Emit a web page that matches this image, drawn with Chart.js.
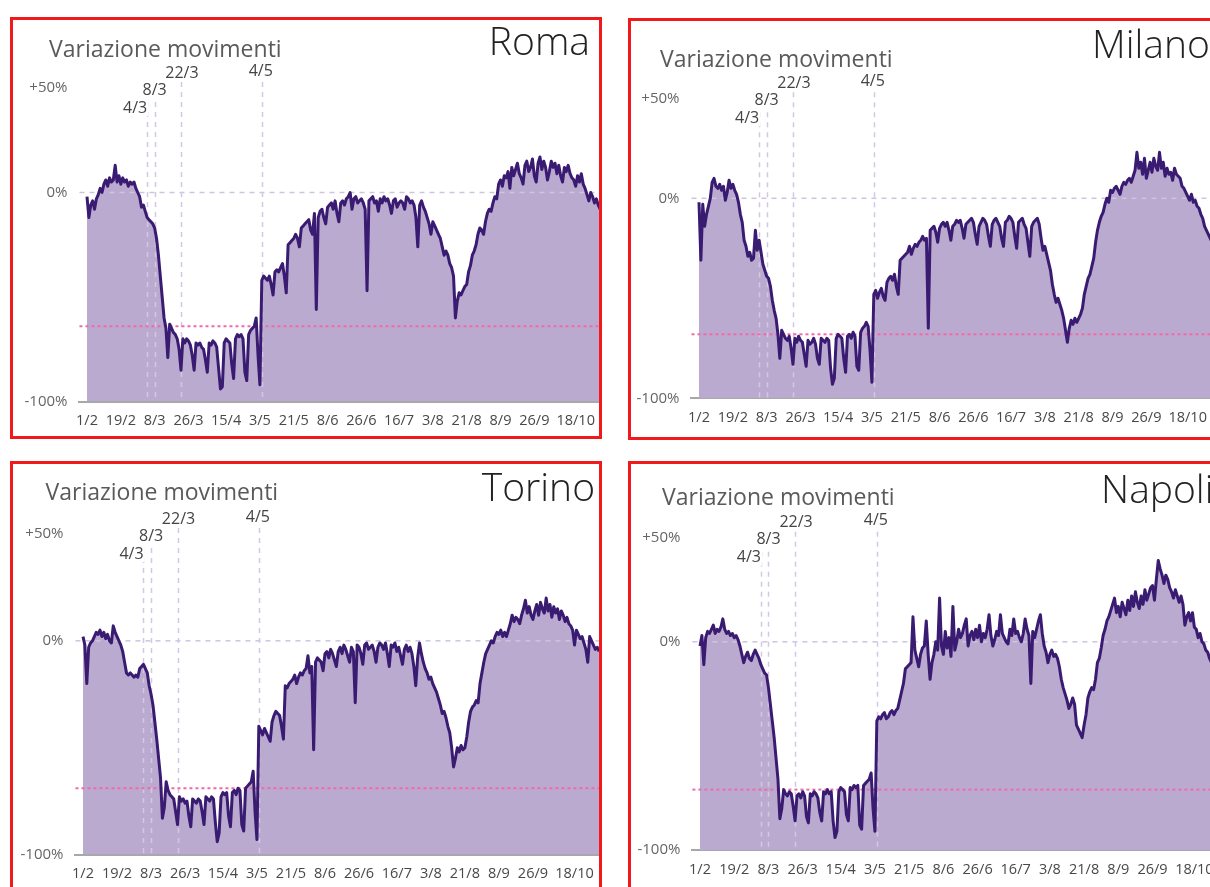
<!DOCTYPE html>
<html lang="it">
<head>
  <meta charset="UTF-8">
  <title>Variazione movimenti</title>
  <script src="https://cdn.jsdelivr.net/npm/chart.js@4"></script>
  <style>
    body {
      margin: 0;
      width: 1210px;
      height: 887px;
      overflow: hidden;
      background: #fff;
      position: relative;
    }
    /* cornice rossa di ogni città */
    .panel {
      position: absolute;
      border: 3px solid #f0191c;
      overflow: hidden;
      box-sizing: border-box;
      background: #fff;
    }
    .panel canvas {
      position: absolute;
      left: 0;
      top: 0;
    }
  </style>
</head>
<body>
  <div class="panel" id="p-roma"><canvas id="c-roma"></canvas></div>
  <div class="panel" id="p-milano"><canvas id="c-milano"></canvas></div>
  <div class="panel" id="p-torino"><canvas id="c-torino"></canvas></div>
  <div class="panel" id="p-napoli"><canvas id="c-napoli"></canvas></div>

  <script>
    // giorni dal 1/2 (giorno 0) al 31/10 (giorno 273), una riga = una settimana (sab..ven)
    const tickDays = [0, 18, 36, 54, 74, 92, 110, 128, 146, 166, 184, 202, 220, 238, 260];
    const tickLabels = ['1/2', '19/2', '8/3', '26/3', '15/4', '3/5', '21/5', '8/6', '26/6', '16/7', '3/8', '21/8', '8/9', '26/9', '18/10'];
    const yTicks = [-100, 0, 50];

    // date dei provvedimenti
    const eventDays = [32, 36, 50, 93];
    const eventLabels = ['4/3', '8/3', '22/3', '4/5'];

    // livello medio del lockdown (linea rosa)
    const romaRef = -64;
    const milanoRef = -68;
    const torinoRef = -69;
    const napoliRef = -71;

    const roma = [
      -2, -12, -6, -4, -8, -3, -1,
      2, 0, 4, 6, 3, 7, 5,
      6, 13, 5, 8, 4, 7, 5,
      6, 3, 5, 4, 5, 2, 0,
      -2, -7, -6, -9, -12, -13, -14,
      -15, -17, -22, -30, -40, -50, -60,
      -65, -79, -63, -65, -67, -68, -70,
      -75, -85, -70, -72, -70, -71, -73,
      -78, -85, -72, -73, -72, -74, -75,
      -80, -86, -72, -73, -71, -72, -74,
      -84, -94, -93, -72, -70, -71, -72,
      -82, -89, -70, -68, -69, -68, -70,
      -86, -90, -68, -66, -65, -64, -60,
      -78, -92, -42, -40, -41, -42, -40,
      -44, -49, -38, -37, -38, -36, -34,
      -40, -48, -25, -24, -23, -22, -20,
      -22, -26, -17, -16, -15, -14, -13,
      -18, -20, -10, -56, -12, -9, -8,
      -12, -15, -7, -6, -5, -8, -4,
      -10, -14, -5, -4, -6, -3, -2,
      0, -8, -3, -2, -5, -4, -3,
      -5, -8, -47, -4, -3, -2, -5,
      -4, -9, -3, -5, -2, -4, -3,
      -6, -10, -4, -3, -7, -5, -4,
      -5, -8, -2, -3, -5, -4, -6,
      -12, -26, -6, -4, -7, -9, -12,
      -15, -20, -14, -16, -18, -20, -22,
      -26, -30, -28, -30, -34, -36, -40,
      -60, -52, -48, -49, -47, -45, -44,
      -38, -35, -30, -28, -25, -20, -17,
      -18, -20, -14, -10, -8, -9, -5,
      -2, -3, 4, 6, 3, 8, 7,
      10, 2, 12, 8, 11, 14, 9,
      7, 4, 13, 15, 10, 12, 16,
      8, 5, 14, 17, 11, 15, 12,
      6, 10, 15, 12, 14, 9, 13,
      8, 5, 12, 10, 13, 9, 7,
      6, 3, 8, 5, 9, 4, 2,
      -1, -4, 0, -2, -5, -3, -6,
      -8
    ];

    const milano = [
      -2, -31, -3, -14, -8, -4, 0,
      8, 10, 6, 5, 7, 4, 6,
      -1, 3, 9, 5, 7, 4, 2,
      -2, -8, -12, -21, -24, -29, -27,
      -31, -30, -16, -26, -21, -27, -33,
      -36, -39, -40, -44, -51, -56, -60,
      -68, -80, -66, -68, -70, -71, -69,
      -75, -83, -70, -72, -69, -71, -72,
      -78, -84, -71, -73, -72, -70, -73,
      -80, -83, -70, -71, -72, -70, -71,
      -85, -93, -90, -70, -68, -69, -70,
      -80, -87, -69, -68, -70, -67, -69,
      -84, -86, -67, -65, -64, -62, -64,
      -76, -92, -48, -46, -50, -47, -45,
      -49, -51, -42, -40, -39, -41, -38,
      -44, -48, -31, -30, -29, -28, -27,
      -24, -28, -25, -23, -24, -22, -21,
      -19, -21, -20, -65, -16, -15, -14,
      -17, -22, -15, -13, -12, -14, -12,
      -16, -21, -14, -13, -11, -12, -11,
      -15, -20, -13, -12, -11, -10, -12,
      -18, -23, -14, -12, -10, -11, -13,
      -19, -24, -13, -11, -10, -12, -14,
      -20, -24, -12, -11, -9, -10, -12,
      -19, -25, -12, -11, -10, -13, -15,
      -22, -29, -14, -12, -11, -10, -13,
      -20, -26, -24, -28, -32, -36, -43,
      -48, -52, -50, -53, -56, -60, -66,
      -72, -65, -61, -63, -60, -62, -60,
      -58, -55, -48, -44, -40, -38, -34,
      -30, -22, -16, -12, -9, -7, -3,
      0, -2, 4, 3, 5, 6, 4,
      2, 6, 8, 7, 9, 10, 8,
      11, 14, 23, 15, 18, 12, 20,
      10, 14, 18, 13, 20, 16, 14,
      23, 15, 18, 11, 15, 12, 13,
      9, 15, 12, 11, 10, 6, 5,
      3, 1, -1, 2, -2, -1, -4,
      -5, -8, -10, -14, -16, -18, -20,
      -22
    ];

    const torino = [
      2, -2, -20, -3, -1, 0, 2,
      4, 3, 5, 2, 4, 1, 3,
      0, -1, 7, 4, 2, 0, -2,
      -5, -10, -15, -16, -15, -16, -17,
      -16, -17, -13, -12, -11, -13, -15,
      -21, -25, -30, -38, -46, -55, -64,
      -83, -78, -66, -70, -72, -73, -74,
      -80, -86, -73, -75, -74, -76, -75,
      -82, -87, -74, -75, -76, -74, -75,
      -80, -86, -73, -74, -75, -73, -74,
      -85, -94, -90, -73, -71, -72, -71,
      -82, -87, -71, -70, -72, -69, -70,
      -86, -89, -69, -68, -67, -66, -61,
      -80, -93, -40, -42, -44, -41, -43,
      -45, -47, -38, -35, -33, -34, -35,
      -40, -46, -21, -22, -20, -19, -18,
      -16, -20, -17, -15, -16, -14, -13,
      -7, -15, -12, -51, -10, -8, -9,
      -10, -14, -6, -5, -8, -4, -6,
      -9, -12, -5, -3, -6, -2, -4,
      -7, -10, -3, -5, -29, -2, -3,
      -6, -11, -2, -1, -4, -3, -2,
      -5, -10, -3, -1, -2, -4, -1,
      -6, -12, -2, -3, -1, -5, -3,
      -7, -11, -4, -2, -5, -3, -6,
      -12, -21, -8, -1, -6, -10, -13,
      -15, -18, -17, -20, -22, -24, -27,
      -30, -34, -33, -36, -40, -43, -50,
      -59, -55, -50, -52, -49, -51, -50,
      -45, -38, -33, -31, -30, -28, -29,
      -20, -15, -10, -6, -4, -2, 0,
      -1, 2, 4, 3, 5, 2, 4,
      2, 5, 8, 12, 9, 11, 10,
      8, 12, 15, 19, 13, 16, 12,
      10, 14, 17, 12, 18, 15, 13,
      20, 14, 17, 11, 16, 13, 15,
      10, 14, 12, 9, 11, 8, 7,
      5, -2, 5, 3, 1, 2, -1,
      -4, -10, 2, 0, -2, -4, -3,
      -5
    ];

    const napoli = [
      -2, 3, -11, 2, 5, 4, 6,
      8, 4, 6, 5, 7, 11, 6,
      4, 5, 3, 4, 2, 3, 1,
      -2, -6, -10, -7, -5, -8, -9,
      -6, -4, -6, -8, -11, -13, -15,
      -16, -22, -30, -38, -46, -56, -66,
      -85, -80, -71, -73, -74, -72, -73,
      -79, -86, -74, -73, -75, -72, -74,
      -84, -87, -73, -74, -72, -73, -75,
      -82, -86, -72, -73, -71, -73, -72,
      -86, -94, -91, -72, -70, -71, -72,
      -83, -86, -70, -71, -69, -70, -69,
      -88, -90, -69, -68, -67, -66, -63,
      -80, -91, -38, -36, -37, -35, -34,
      -37, -36, -34, -33, -35, -33, -32,
      -28, -24, -20, -13, -12, -11, -10,
      12, -4, -8, -12, -6, -3, -2,
      10, -6, -18, -10, -6, 0, -4,
      21, -2, -6, 5, -3, 2, -7,
      17, -4, 0, 6, 2, 4, 8,
      11, -2, 3, 5, 1, 6, 2,
      8, 0, 4, 2, 6, 13, 3,
      -2, 1, 5, 3, 13, 4, 2,
      0, -1, 6, 3, 11, 4, 5,
      2, 0, 4, 11, 6, 3, -20,
      5, 2, 6, 10, 13, 4, -2,
      -5, -10, -6, -4, -7, -6, -8,
      -12, -18, -22, -25, -28, -32, -30,
      -27, -30, -40, -42, -44, -46, -40,
      -35, -27, -24, -22, -23, -18, -10,
      -8, -3, 3, 6, 10, 12, 15,
      18, 21, 14, 17, 12, 19, 16,
      13, 20, 15, 22, 17, 24, 19,
      16, 22, 18, 25, 20, 23, 26,
      27, 20, 30, 39, 35, 32, 28,
      32, 30, 26, 24, 21, 25, 22,
      19, 22, 18, 8, 12, 14, 10,
      14, 7, 6, 2, 4, 0, -1,
      -4, -5, -8, -10, -12, -11, -13,
      -15
    ];

    // posizione di ogni grafico nella pagina (cornice, asse x in px/giorno, asse y)
    const panels = [
      { id: 'roma', name: 'Roma', values: roma, ref: romaRef, box: [10, 17, 592, 422],
        x0: 87, ppd: 1.88, top: 88, bottom: 401.5, title: [49, 57], city: [590, 55, 'right'] },
      { id: 'milano', name: 'Milano', values: milano, ref: milanoRef, box: [628, 18, 700, 422],
        x0: 699, ppd: 1.88, top: 98.3, bottom: 398.3, title: [660, 67], city: [1092, 58, 'left'] },
      { id: 'torino', name: 'Torino', values: torino, ref: torinoRef, box: [10, 461, 592, 500],
        x0: 83, ppd: 1.89, top: 534, bottom: 854.5, title: [45.5, 500], city: [595, 501, 'right'] },
      { id: 'napoli', name: 'Napoli', values: napoli, ref: napoliRef, box: [628, 461, 700, 500],
        x0: 700, ppd: 1.9, top: 537.7, bottom: 850, title: [662, 505], city: [1101, 503, 'left'] }
    ];

    const X_MIN = -4;
    const X_MAX = 274;
    const BORDER = 3;
    const X_AXIS_H = 40;

    Chart.defaults.font.family = "'Open Sans', 'Noto Sans', sans-serif";

    // posizioni delle etichette degli eventi rispetto alla propria linea
    const eventLabelPos = [
      { dx: -12, dy: 19 },
      { dx: 0, dy: 1 },
      { dx: 1, dy: -16 },
      { dx: -1, dy: -18 }
    ];

    panels.forEach(p => {
      const panelEl = document.getElementById('p-' + p.id);
      panelEl.style.left = p.box[0] + 'px';
      panelEl.style.top = p.box[1] + 'px';
      panelEl.style.width = p.box[2] + 'px';
      panelEl.style.height = p.box[3] + 'px';

      const cLeft = p.box[0] + BORDER;
      const cTop = p.box[1] + BORDER;
      const areaLeft = p.x0 + X_MIN * p.ppd;
      const areaRight = p.x0 + X_MAX * p.ppd;
      const yAxisW = areaLeft - cLeft;
      const padTop = p.top - cTop;
      const cW = Math.round(areaRight - cLeft) + 10;
      const cH = Math.round(p.bottom - cTop + X_AXIS_H);
      const xAxisH = cH - (p.bottom - cTop);

      const canvas = document.getElementById('c-' + p.id);
      canvas.width = cW;
      canvas.height = cH;
      canvas.style.width = cW + 'px';
      canvas.style.height = cH + 'px';

      // linee tratteggiate, etichette degli eventi e titoli
      const decor = {
        id: 'decor',
        beforeDatasetsDraw(chart) {
          const { ctx, chartArea: a, scales: { x, y } } = chart;
          ctx.save();
          ctx.lineWidth = 1.5;

          // linea dello 0%
          ctx.strokeStyle = '#cec4df';
          ctx.setLineDash([5, 5]);
          ctx.beginPath();
          ctx.moveTo(a.left, y.getPixelForValue(0));
          ctx.lineTo(a.right, y.getPixelForValue(0));
          ctx.stroke();

          // linee verticali degli eventi
          ctx.strokeStyle = '#d2c8e3';
          eventDays.forEach(d => {
            const px = Math.round(x.getPixelForValue(d)) + 0.5;
            ctx.beginPath();
            ctx.moveTo(px, a.top - 6);
            ctx.lineTo(px, a.bottom);
            ctx.stroke();
          });

          // livello medio del lockdown
          ctx.strokeStyle = '#f06aa8';
          ctx.lineWidth = 2;
          ctx.setLineDash([3, 3]);
          ctx.beginPath();
          ctx.moveTo(a.left, y.getPixelForValue(p.ref));
          ctx.lineTo(a.right, y.getPixelForValue(p.ref));
          ctx.stroke();

          // etichette degli eventi su fondo bianco
          ctx.setLineDash([]);
          ctx.font = "16px 'Open Sans', sans-serif";
          ctx.textAlign = 'center';
          ctx.textBaseline = 'middle';
          eventDays.forEach((d, i) => {
            const cx = x.getPixelForValue(d) + eventLabelPos[i].dx;
            const cy = a.top + eventLabelPos[i].dy;
            const w = ctx.measureText(eventLabels[i]).width;
            ctx.fillStyle = '#fff';
            ctx.fillRect(cx - w / 2 - 1, cy - 9, w + 2, 18);
            ctx.fillStyle = '#444';
            ctx.fillText(eventLabels[i], cx, cy + 1);
          });
          ctx.restore();
        },
        afterDraw(chart) {
          const ctx = chart.ctx;
          ctx.save();
          ctx.textBaseline = 'alphabetic';
          ctx.fillStyle = '#5c5a58';
          ctx.font = "23px 'Open Sans', sans-serif";
          ctx.textAlign = 'left';
          ctx.fillText('Variazione movimenti', p.title[0] - cLeft, p.title[1] - cTop);

          ctx.fillStyle = '#222';
          ctx.font = "300 39px 'Open Sans', sans-serif";
          ctx.textAlign = p.city[2];
          ctx.fillText(p.name, p.city[0] - cLeft, p.city[1] - cTop);
          ctx.restore();
        }
      };

      new Chart(canvas.getContext('2d'), {
        type: 'line',
        data: {
          datasets: [{
            data: p.values.map((v, i) => ({ x: i, y: v })),
            borderColor: '#3a1b72',
            backgroundColor: '#bbaacf',
            borderWidth: 3,
            pointRadius: 0,
            tension: 0,
            fill: 'start',
            borderJoinStyle: 'round'
          }]
        },
        options: {
          responsive: false,
          animation: false,
          events: [],
          layout: { padding: { top: padTop, right: 10, bottom: 0, left: 0 } },
          plugins: {
            legend: { display: false },
            tooltip: { enabled: false },
            filler: { drawTime: 'beforeDatasetsDraw' }
          },
          scales: {
            x: {
              type: 'linear',
              min: X_MIN,
              max: X_MAX,
              grid: { display: false, drawTicks: false },
              border: { display: true, color: '#a8a8a8', width: 2 },
              afterFit: s => { s.height = xAxisH; },
              afterBuildTicks: s => { s.ticks = tickDays.map(v => ({ value: v })); },
              ticks: {
                autoSkip: false,
                maxRotation: 0,
                minRotation: 0,
                padding: 11,
                color: '#484848',
                font: { size: 14.5 },
                callback: (v, i) => tickLabels[i]
              }
            },
            y: {
              min: -100,
              max: 50,
              grid: { display: false, drawTicks: false },
              border: { display: false },
              afterFit: s => { s.width = yAxisW; },
              afterBuildTicks: s => { s.ticks = yTicks.map(v => ({ value: v })); },
              ticks: {
                padding: 12,
                color: '#666',
                font: { size: 15 },
                callback: v => (v > 0 ? '+' : '') + v + '%'
              }
            }
          }
        },
        plugins: [decor]
      });
    });
  </script>
</body>
</html>
